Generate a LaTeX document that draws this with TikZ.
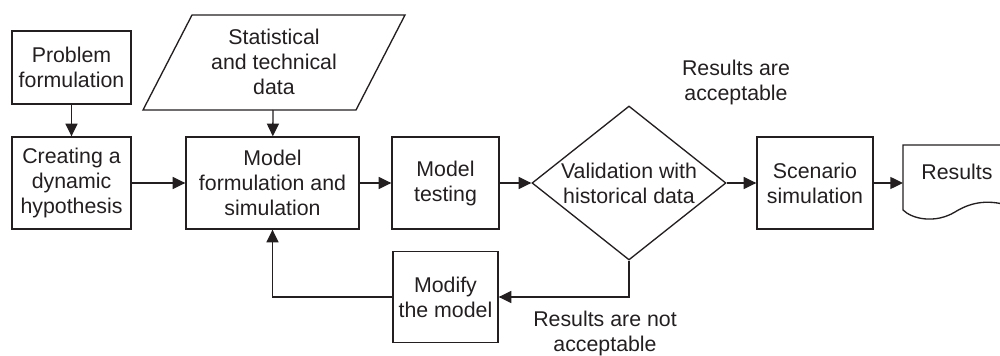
\documentclass[tikz,border=0pt]{standalone}
\usepackage{fontspec}
\setmainfont{Liberation Sans}
\usetikzlibrary{arrows.meta,shapes.geometric}
\definecolor{ink}{HTML}{231F20}
\begin{document}
\begin{tikzpicture}[x=0.75pt,y=-0.75pt,
  every node/.style={font=\fontsize{16pt}{18.75pt}\selectfont, text=ink, align=center},
  box/.style={draw=ink, line width=1pt, inner sep=0pt},
  arr/.style={draw=ink, line width=1pt, -{Triangle[length=9.5pt,width=9pt]}},
  lbl/.style={inner sep=0pt}]
\useasboundingbox (0,0) rectangle (1000,356);
\clip (0,0) rectangle (1000,356);
% boxes
\node[box, minimum width=119*0.75pt, minimum height=73*0.75pt] (prob) at (71.5,67.5) {Problem\\formulation};
\node[box, minimum width=119*0.75pt, minimum height=92*0.75pt] (cre) at (71.5,183) {Creating a\\dynamic\\hypothesis};
\node[box, minimum width=173*0.75pt, minimum height=92*0.75pt] (model) at (272.5,183) {Model\\formulation and\\simulation};
\node[box, minimum width=107*0.75pt, minimum height=92*0.75pt] (test) at (445.5,183) {Model\\testing};
\node[box, minimum width=116*0.75pt, minimum height=92*0.75pt] (scen) at (815,183) {Scenario\\simulation};
\node[box, minimum width=105*0.75pt, minimum height=91*0.75pt] (modify) at (445.5,297) {Modify\\the model};
% diamond
\node[diamond, draw=ink, line width=1pt, inner sep=0pt, aspect=1.26,
      minimum width=194*0.75pt, minimum height=154*0.75pt] (val) at (629,183) {};
\node[lbl] (valtxt) at (629,183) {Validation with\\historical data};
% parallelogram
\draw[ink, line width=1pt] (192,15) -- (405,15) -- (356,110) -- (143,110) -- cycle;
\node[lbl] (data) at (274,62) {Statistical\\and technical\\data};
\coordinate (dataB) at (273,110);
% document shape
\draw[ink, line width=1pt] (1010,145) -- (903,145) -- (903,210)
  .. controls (912,219) and (935,224) .. (955,212)
  .. controls (968,204) and (985,198) .. (1010,206);
\node[lbl] (res) at (957,172) {Results};
\coordinate (resW) at (903,183);
% labels
\node[lbl] (acc) at (736,82) {Results are\\acceptable};
\node[lbl] (nacc) at (605,333) {Results are not\\acceptable};
% connectors
\draw[arr] (prob) -- (cre);
\draw[arr] (dataB) -- (model);
\draw[arr] (cre) -- (model);
\draw[arr] (model) -- (test);
\draw[arr] (test) -- (val.west);
\draw[arr] (val.east) -- (scen);
\draw[arr] (scen) -- (resW);
\draw[arr] (val.south) |- (modify.east);
\draw[arr] (modify.west) -| (model.south);
\end{tikzpicture}
\end{document}
